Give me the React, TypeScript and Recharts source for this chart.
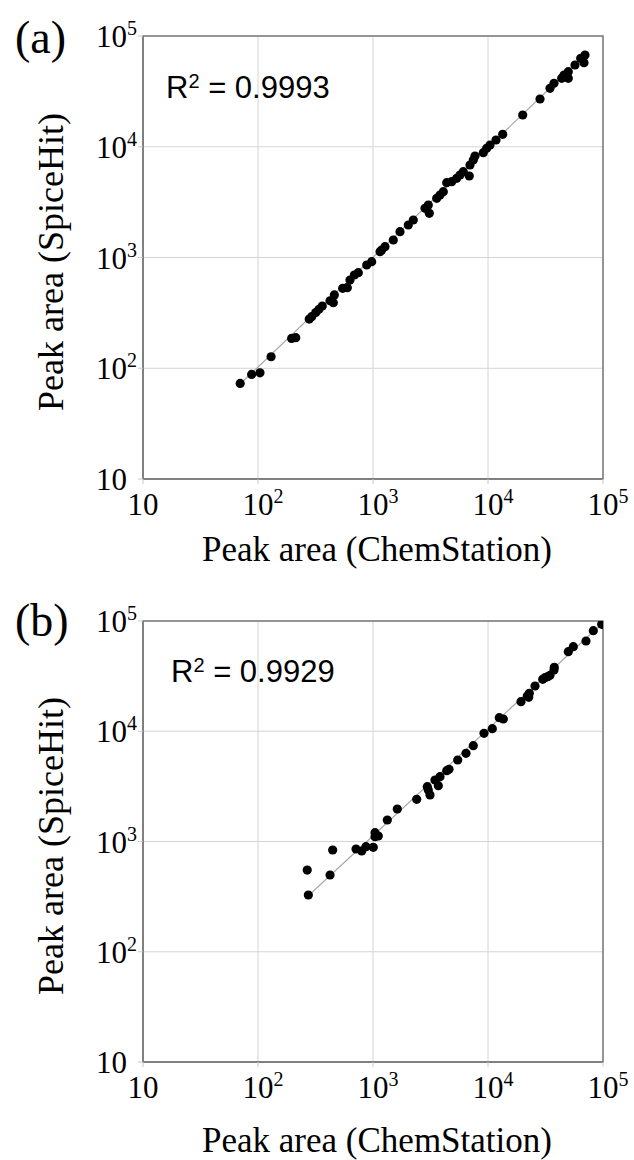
import React from 'react';
import { ScatterChart, Scatter, XAxis, YAxis, CartesianGrid, ReferenceLine, ReferenceArea } from 'recharts';

const tickValues = [10, 100, 1000, 10000, 100000];
const panelLetters = ['(a)', '(b)'];
const r2Values = ['0.9993', '0.9929'];
const xTitle = 'Peak area (ChemStation)';
const yTitle = 'Peak area (SpiceHit)';

const chemA = [70, 88, 104, 130, 196, 213, 279, 293, 318, 339, 362, 423, 461, 452, 545, 598, 631, 688, 745, 882, 974, 1151, 1190, 1272, 1502, 1717, 2028, 2241, 2833, 3027, 3088, 3581, 3824, 4087, 4374, 4834, 5343, 5708, 6098, 6877, 6974, 7449, 7709, 9102, 9743, 10409, 11739, 13425, 20036, 28330, 34604, 37488, 43740, 45800, 49920, 49920, 57080, 63990, 68360, 69740];
const spiceA = [73, 88, 91, 127, 186, 189, 278, 292, 318, 341, 365, 407, 459, 391, 527, 534, 626, 695, 729, 856, 917, 1128, 1169, 1252, 1439, 1710, 1966, 2181, 2782, 2979, 2507, 3424, 3667, 3928, 4736, 4835, 5190, 5558, 5953, 5443, 6842, 7596, 8251, 8837, 9683, 10371, 11508, 12955, 19356, 26999, 33714, 37411, 41510, 44450, 47610, 41510, 54720, 62900, 57400, 67360];
const fitA = [[70, 72], [70000, 68000]];

const chemB = [274, 268, 423, 446, 712, 798, 869, 1006, 1041, 1041, 1112, 1332, 1627, 2399, 2966, 3026, 3131, 3460, 3824, 3697, 4374, 4580, 5451, 6437, 7449, 9231, 10900, 12540, 13590, 19360, 21970, 22870, 22590, 25630, 29910, 31320, 33040, 34600, 37490, 37710, 49920, 55180, 71150, 82370, 97430];
const spiceB = [327, 551, 497, 837, 855, 820, 897, 886, 1202, 1105, 1122, 1567, 1971, 2415, 3141, 2932, 2642, 3613, 3871, 3207, 4387, 4517, 5487, 6309, 7395, 9581, 10550, 13270, 12910, 18530, 20870, 22090, 20320, 25730, 29590, 30590, 31240, 32170, 35940, 38020, 52680, 58470, 65860, 81660, 93350];
const fitB = [[274, 322], [97000, 94000]];

const SERIF = '"Liberation Serif", "Times New Roman", serif';
const SANS = '"Liberation Sans", Arial, sans-serif';

function XTick(props: any) {
  const { x, y, payload } = props;
  const e = Math.round(Math.log10(payload.value));
  return (
    <text x={x - 15.5} y={y + 31} fontFamily={SERIF} fontSize={31} fill="#000">
      10{e > 1 ? <tspan fontSize={20} dy={-12}>{e}</tspan> : null}
    </text>
  );
}

function YTick(props: any) {
  const { x, y, payload } = props;
  const e = Math.round(Math.log10(payload.value));
  return (
    <text x={x - 42} y={y + 11} fontFamily={SERIF} fontSize={31} fill="#000">
      10{e > 1 ? <tspan fontSize={20} dy={-12}>{e}</tspan> : null}
    </text>
  );
}

const Dot = (p: any) => <circle cx={p.cx} cy={p.cy} r={4.6} fill="#000" />;

type PanelProps = {
  top: number;
  plotTop: number;
  plotBottom: number;
  xs: number[];
  ys: number[];
  fit: number[][];
  letter: string;
  r2: string;
  letterY: number;
  r2X: number;
  r2Y: number;
  xTitleY: number;
  yTitleY: number;
};

function Panel(p: PanelProps) {
  const W = 634;
  const H = 580;
  const xAxisH = 40;
  const yAxisW = 60;
  const data = p.xs.map((x, i) => ({ x, y: p.ys[i] }));
  const margin = {
    top: p.plotTop - p.top,
    bottom: p.top + H - p.plotBottom - xAxisH,
    left: 143 - yAxisW,
    right: W - 603,
  };
  return (
    <div style={{ position: 'absolute', left: 0, top: p.top, width: W, height: H }}>
      <ScatterChart width={W} height={H} margin={margin}>
        <CartesianGrid stroke="#d4d4d4" strokeWidth={1} />
        <XAxis
          type="number"
          dataKey="x"
          scale="log"
          domain={[10, 100000]}
          ticks={tickValues}
          allowDataOverflow
          height={xAxisH}
          tickSize={5}
          tickMargin={0}
          tickLine={{ stroke: '#c8c8c8' }}
          axisLine={{ stroke: '#7a7a7a', strokeWidth: 1.5 }}
          tick={<XTick />}
          interval={0}
        />
        <YAxis
          type="number"
          dataKey="y"
          scale="log"
          domain={[10, 100000]}
          ticks={tickValues}
          allowDataOverflow
          width={yAxisW}
          tickSize={5}
          tickMargin={0}
          tickLine={{ stroke: '#c8c8c8' }}
          axisLine={{ stroke: '#7a7a7a', strokeWidth: 1.5 }}
          tick={<YTick />}
          interval={0}
        />
        <ReferenceArea x1={10} x2={100000} y1={10} y2={100000} fill="none" fillOpacity={0} stroke="#7a7a7a" strokeWidth={1.5} ifOverflow="visible" />
        <ReferenceLine
          segment={[{ x: p.fit[0][0], y: p.fit[0][1] }, { x: p.fit[1][0], y: p.fit[1][1] }]}
          stroke="#a8a8a8"
          strokeWidth={1.2}
          ifOverflow="visible"
        />
        <Scatter data={data} isAnimationActive={false} shape={Dot} />
      </ScatterChart>
      <svg width={W} height={H} style={{ position: 'absolute', left: 0, top: 0, pointerEvents: 'none' }}>
        <text x={15} y={p.letterY} fontFamily={SERIF} fontSize={46} fill="#000">{p.letter}</text>
        <text x={p.r2X} y={p.r2Y} fontFamily={SANS} fontSize={31} fill="#000">
          R<tspan fontSize={20} dy={-10}>2</tspan><tspan dy={10}> = {p.r2}</tspan>
        </text>
        <text x={377} y={p.xTitleY} textAnchor="middle" fontFamily={SERIF} fontSize={35} fill="#000">{xTitle}</text>
        <text
          x={0}
          y={0}
          transform={`translate(63, ${p.yTitleY}) rotate(-90)`}
          textAnchor="middle"
          fontFamily={SERIF}
          fontSize={36}
          fill="#000"
        >
          {yTitle}
        </text>
      </svg>
    </div>
  );
}

export default function App() {
  return (
    <div style={{ position: 'absolute', left: 0, top: 0, width: 634, height: 1160, background: '#fff' }}>
      <Panel
        top={0}
        plotTop={36}
        plotBottom={479}
        xs={chemA}
        ys={spiceA}
        fit={fitA}
        letter={panelLetters[0]}
        r2={r2Values[0]}
        letterY={53}
        r2X={166}
        r2Y={98}
        xTitleY={561}
        yTitleY={262}
      />
      <Panel
        top={580}
        plotTop={621}
        plotBottom={1062}
        xs={chemB}
        ys={spiceB}
        fit={fitB}
        letter={panelLetters[1]}
        r2={r2Values[1]}
        letterY={56}
        r2X={171}
        r2Y={102}
        xTitleY={572}
        yTitleY={266}
      />
    </div>
  );
}
